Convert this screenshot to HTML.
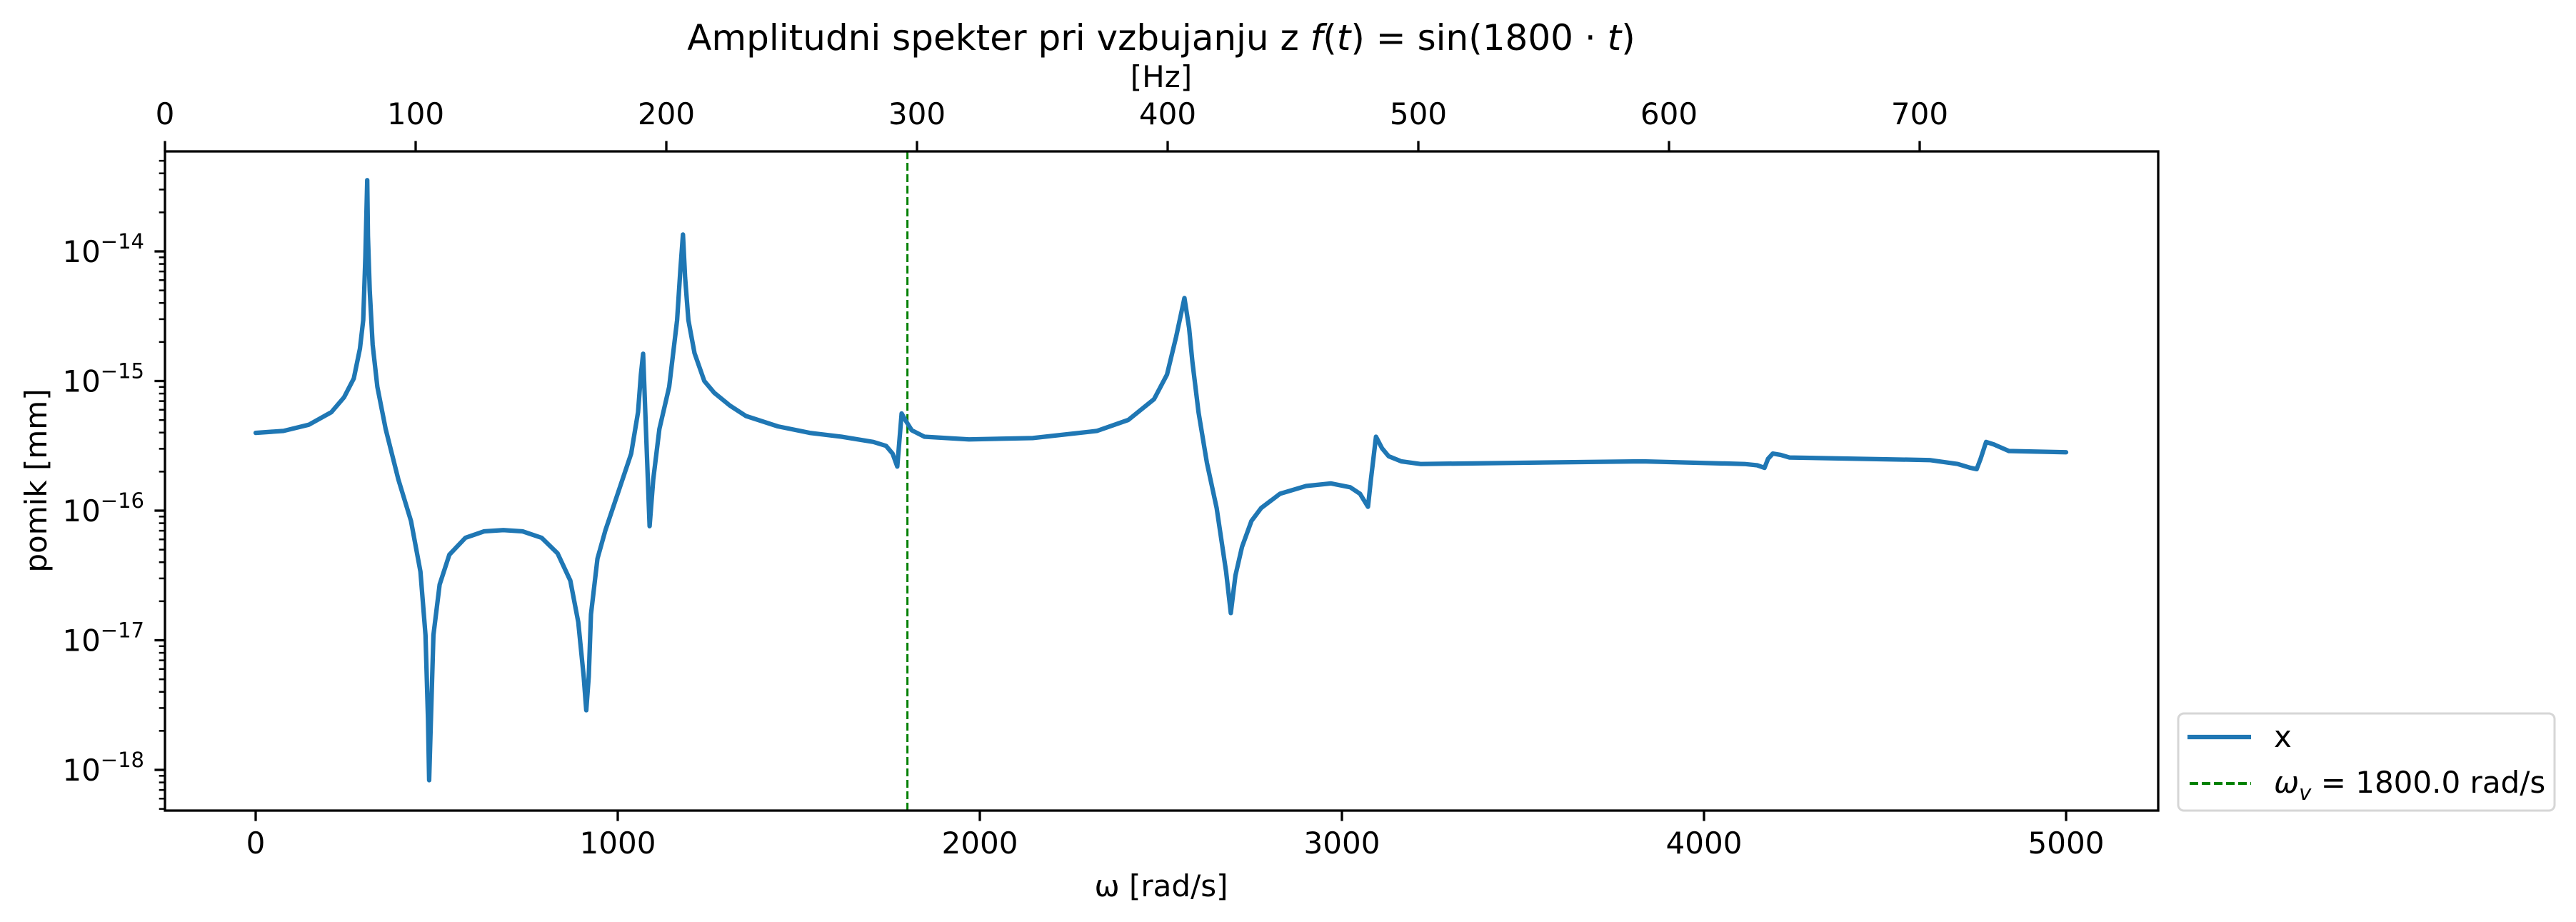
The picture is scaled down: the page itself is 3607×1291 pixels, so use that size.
<!DOCTYPE html>
<html><head><meta charset="utf-8"><style>
html,body{margin:0;padding:0;background:#fff;}
svg{display:block;font-family:"DejaVu Sans","Liberation Sans",sans-serif;}
</style></head><body>
<svg id="chart" width="3607" height="1291" viewBox="0 0 3607 1291" xmlns="http://www.w3.org/2000/svg">
<rect width="3607" height="1291" fill="#fff"/>
<text x="1626" y="70" font-size="50" text-anchor="middle">Amplitudni spekter pri vzbujanju z <tspan font-style="italic">f</tspan>(<tspan font-style="italic">t</tspan>) = sin(1800 · <tspan font-style="italic">t</tspan>)</text>
<text x="1626" y="122" font-size="42" text-anchor="middle">[Hz]</text>
<text x="1626" y="1255" font-size="42" text-anchor="middle">ω [rad/s]</text>
<text x="0" y="0" font-size="42" text-anchor="middle" transform="translate(65,673) rotate(-90)">pomik [mm]</text>
<g id="plot"></g>
<g id="axes"></g>
<g>
<rect x="3050" y="999" width="527" height="136" rx="8" fill="#fff" stroke="#d6d6d6" stroke-width="3"/>
<line x1="3063" y1="1032" x2="3152" y2="1032" stroke="#1f77b4" stroke-width="6.25"/>
<text x="3184" y="1046" font-size="42">x</text>
<line x1="3066" y1="1097" x2="3152" y2="1097" stroke="green" stroke-width="4" stroke-dasharray="12,5"/>
<text x="3184" y="1110" font-size="42"><tspan font-style="italic">ω</tspan><tspan font-style="italic" font-size="29" dy="10">v</tspan><tspan dy="-10"> = 1800.0 rad/s</tspan></text>
</g>
</svg>
<script>
const omega = [0,77,147,209,244,271,288,297,303,308,310,315,323,336,359,394,429,455,469,476,479,484,491,508,535,579,631,684,737,790,834,869,891,906,913,920,926,944,966,1001,1037,1056,1064,1070,1088,1098,1115,1142,1164,1173,1180,1186,1195,1212,1239,1266,1310,1354,1442,1530,1618,1706,1741,1759,1772,1784,1794,1812,1847,1970,2146,2323,2410,2481,2517,2542,2565,2578,2587,2604,2627,2654,2680,2693,2706,2724,2750,2777,2829,2901,2970,3023,3050,3072,3080,3094,3111,3129,3164,3217,3830,4112,4147,4167,4177,4190,4212,4236,4623,4701,4736,4753,4764,4779,4801,4842,5000];
const log10Amplitude = [-15.40,-15.385,-15.337,-15.24,-15.126,-14.98,-14.75,-14.53,-14.04,-13.45,-13.88,-14.30,-14.72,-15.045,-15.37,-15.76,-16.08,-16.47,-16.96,-17.61,-18.08,-17.61,-16.96,-16.57,-16.34,-16.21,-16.16,-16.15,-16.16,-16.21,-16.33,-16.54,-16.86,-17.28,-17.54,-17.28,-16.80,-16.37,-16.15,-15.86,-15.56,-15.24,-14.95,-14.79,-16.12,-15.76,-15.37,-15.045,-14.53,-14.14,-13.87,-14.20,-14.53,-14.785,-15.00,-15.09,-15.19,-15.27,-15.35,-15.40,-15.43,-15.47,-15.50,-15.56,-15.66,-15.25,-15.30,-15.38,-15.43,-15.45,-15.44,-15.385,-15.30,-15.14,-14.95,-14.66,-14.36,-14.59,-14.85,-15.24,-15.63,-15.98,-16.47,-16.79,-16.50,-16.28,-16.08,-15.98,-15.87,-15.81,-15.79,-15.82,-15.87,-15.97,-15.76,-15.43,-15.52,-15.58,-15.62,-15.64,-15.62,-15.64,-15.65,-15.67,-15.60,-15.56,-15.57,-15.59,-15.61,-15.64,-15.67,-15.68,-15.60,-15.47,-15.49,-15.54,-15.55];
const excitationOmega = [1800];
const xTicks = [0,1000,2000,3000,4000,5000];
const hzTicks = [0,100,200,300,400,500,600,700];
const yDecades = [-18,-17,-16,-15,-14];

const L=231,R=3022,T=212,B=1135;
const X = w => 358 + w*0.507;
const Y = lg => 352 - (lg + 14)*181.5;
const HZ = h => 231 + h*3.51;
const NS='http://www.w3.org/2000/svg';
const plot=document.getElementById('plot'), axes=document.getElementById('axes');
function mk(tag, attrs, parent){const e=document.createElementNS(NS,tag);for(const k in attrs)e.setAttribute(k,attrs[k]);parent.appendChild(e);return e;}

excitationOmega.forEach(w=>{
  const l=mk('line',{x1:X(w),x2:X(w),y1:T,y2:B,stroke:'green','stroke-width':3,'stroke-dasharray':'11,5'},plot);
  
  
});
const order=omega.map((w,i)=>i).sort((a,b)=>omega[a]-omega[b]);
const pts=order.map(i=>X(omega[i]).toFixed(1)+','+Y(log10Amplitude[i]).toFixed(1)).join(' ');
const pl=mk('polyline',{points:pts,fill:'none',stroke:'#1f77b4','stroke-width':6.25,'stroke-linejoin':'round','stroke-linecap':'round'},plot);



const fr=mk('rect',{x:L,y:T,width:R-L,height:B-T,fill:'none',stroke:'#000','stroke-width':3.3},axes);



xTicks.forEach(v=>{
  const x=X(v);
  const t=mk('line',{x1:x,x2:x,y1:B,y2:B+14.6,stroke:'#000','stroke-width':3.3},axes);
  
  
  const lb=mk('text',{x:x,y:1195,'font-size':42,'text-anchor':'middle'},axes);
  lb.textContent=v;
  
  
});
hzTicks.forEach(v=>{
  const x=HZ(v);
  const t=mk('line',{x1:x,x2:x,y1:T,y2:T-14.6,stroke:'#000','stroke-width':3.3},axes);
  
  
  const lb=mk('text',{x:x,y:174,'font-size':42,'text-anchor':'middle'},axes);
  lb.textContent=v;
  
  
});
yDecades.forEach(d=>{
  const y=Y(d);
  const t=mk('line',{x1:L,x2:L-14.6,y1:y,y2:y,stroke:'#000','stroke-width':3.3},axes);
  
  
  const lb=mk('text',{x:202,y:y+15,'font-size':42,'text-anchor':'end'},axes);
  
  
  const a=document.createElementNS(NS,'tspan');a.textContent='10';lb.appendChild(a);
  const b=document.createElementNS(NS,'tspan');b.setAttribute('font-size','29');b.setAttribute('dy','-19');b.textContent='−'+Math.abs(d);lb.appendChild(b);
});
for(let d=-19; d<=-13; d++){
  for(let k=2;k<=9;k++){
    const lg=d+Math.log10(k), y=Y(lg);
    if(y<T||y>B) continue;
    const t=mk('line',{x1:L,x2:L-8.3,y1:y,y2:y,stroke:'#000','stroke-width':2.5},axes);
    
    
  }
}
</script>
</body></html>
